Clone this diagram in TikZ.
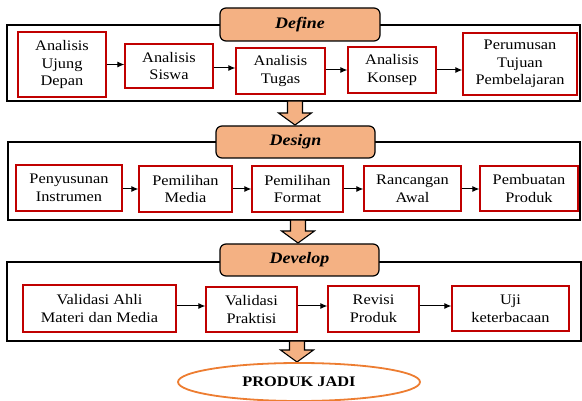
\documentclass[tikz,border=0pt]{standalone}
\usepackage{fontspec}
\setmainfont{Liberation Serif}[FakeStretch=1.12]
\usetikzlibrary{arrows.meta,calc,shapes.geometric}
\definecolor{boxred}{HTML}{C00000}
\definecolor{peach}{HTML}{F4B183}
\definecolor{ellorange}{HTML}{ED7D31}
\tikzset{
  stepbox/.style={draw=boxred,line width=1.3pt,fill=white,align=center,inner sep=0pt,
    font=\fontsize{14.6}{17.6}\selectfont},
  frame/.style={draw=black,line width=1.2pt},
  phase/.style={draw=black,line width=1.2pt,fill=peach,rounded corners=6pt,
    font=\fontsize{16}{18}\selectfont\bfseries\itshape},
  flow/.style={draw=black,line width=1pt,-{Latex[length=7pt,width=6pt]}},
  barrow/.style={draw=black,line width=1.1pt,fill=peach,line join=miter},
}
\newcommand{\blockarrow}[2]{%
  \draw[barrow] ($(#1)+(-7.5,0)$) -- ($(#2)+(-7.5,-12)$) -- ($(#2)+(-16.5,-12)$) -- (#2)
    -- ($(#2)+(16.5,-12)$) -- ($(#2)+(7.5,-12)$) -- ($(#1)+(7.5,0)$) -- cycle;}
\begin{document}
\begin{tikzpicture}[x=1pt,y={(0pt,-1pt)}]
\useasboundingbox (0,0) rectangle (582,401);
% frames
\draw[frame] (7,25) rectangle (580,101);
\draw[frame] (8,142) rectangle (580,220);
\draw[frame] (7,262) rectangle (581,341);
% block arrows
\coordinate (a1) at (295,101); \coordinate (b1) at (295,125);
\coordinate (a2) at (298,220); \coordinate (b2) at (298,243);
\coordinate (a3) at (297,341); \coordinate (b3) at (297,362);
\blockarrow{a1}{b1}
\blockarrow{a2}{b2}
\blockarrow{a3}{b3}
% phase labels
\node[phase,minimum width=160pt,minimum height=33pt] (pdef) at (300,24.5) {Define};
\node[phase,minimum width=159pt,minimum height=32pt] (pdes) at (295.5,142) {Design};
\node[phase,minimum width=159pt,minimum height=32pt] (pdev) at (299.5,260) {Develop};
% Define row
\node[stepbox,minimum width=88pt,minimum height=65pt] (d1) at (62,64.5) {Analisis\\Ujung\\Depan};
\node[stepbox,minimum width=88pt,minimum height=44pt] (d2) at (169,66) {Analisis\\Siswa};
\node[stepbox,minimum width=89pt,minimum height=46pt] (d3) at (280.5,71) {Analisis\\Tugas};
\node[stepbox,minimum width=88pt,minimum height=46pt] (d4) at (392,70) {Analisis\\Konsep};
\node[stepbox,minimum width=114pt,minimum height=62pt] (d5) at (520,64) {Perumusan\\Tujuan\\Pembelajaran};
\draw[flow] (d1.east) -- (d2.west |- d1.east);
\draw[flow] ($(d2.east)+(0,2)$) -- ($(d3.west |- d2.east)+(0,2)$);
\draw[flow] ($(d3.east)+(0,-1)$) -- ($(d4.west |- d3.east)+(0,-1)$);
\draw[flow] (d4.east) -- (d5.west |- d4.east);
% Design row
\node[stepbox,minimum width=106pt,minimum height=46pt] (s1) at (69,188) {Penyusunan\\Instrumen};
\node[stepbox,minimum width=93pt,minimum height=46pt] (s2) at (185.5,189) {Pemilihan\\Media};
\node[stepbox,minimum width=91pt,minimum height=46pt] (s3) at (297.5,189) {Pemilihan\\Format};
\node[stepbox,minimum width=97pt,minimum height=45pt] (s4) at (412.5,188.5) {Rancangan\\Awal};
\node[stepbox,minimum width=98pt,minimum height=45pt] (s5) at (529,188.5) {Pembuatan\\Produk};
\draw[flow] ($(s1.east)+(0,1)$) -- ($(s2.west |- s1.east)+(0,1)$);
\draw[flow] (s2.east) -- (s3.west |- s2.east);
\draw[flow] (s3.east) -- (s4.west |- s3.east);
\draw[flow] ($(s4.east)+(0,0.5)$) -- ($(s5.west |- s4.east)+(0,0.5)$);
% Develop row
\node[stepbox,minimum width=153pt,minimum height=47pt] (v1) at (99.5,308.5) {Validasi Ahli\\Materi dan Media};
\node[stepbox,minimum width=91pt,minimum height=45pt] (v2) at (251.5,309.5) {Validasi\\Praktisi};
\node[stepbox,minimum width=91pt,minimum height=46pt] (v3) at (373.5,309) {Revisi\\Produk};
\node[stepbox,minimum width=117pt,minimum height=45pt] (v4) at (510.5,308.5) {Uji\\keterbacaan};
\draw[flow] ($(v1.east)+(0,-2.5)$) -- ($(v2.west |- v1.east)+(0,-2.5)$);
\draw[flow] ($(v2.east)+(0,-3.5)$) -- ($(v3.west |- v2.east)+(0,-3.5)$);
\draw[flow] ($(v3.east)+(0,-3)$) -- ($(v4.west |- v3.east)+(0,-3)$);
% final product
\node[ellipse,draw=ellorange,line width=1.8pt,minimum width=242pt,minimum height=38pt,inner sep=0pt,
  font=\fontsize{14.6}{17}\selectfont\bfseries] (prod) at (299,382) {PRODUK JADI};
\end{tikzpicture}
\end{document}
